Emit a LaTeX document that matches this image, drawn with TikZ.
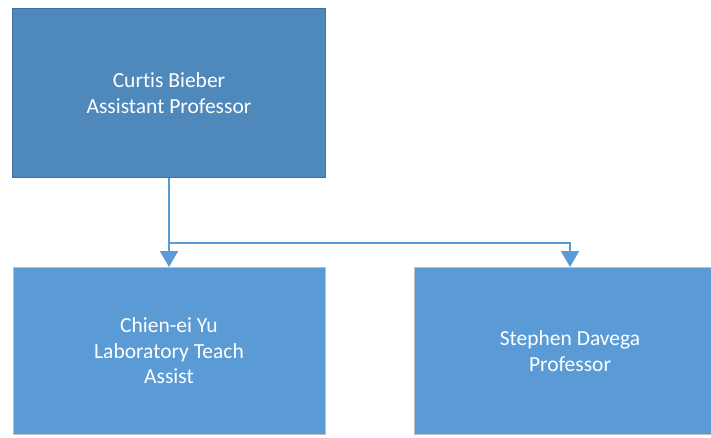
\documentclass[tikz,border=0pt]{standalone}
\usepackage{fontspec}
\setmainfont[Ligatures=NoCommon]{Carlito}
\usepackage[table]{xcolor}
\usepackage{tikz}
\usetikzlibrary{positioning,arrows.meta}
\definecolor{headblue}{RGB}{79,136,187}
\definecolor{headline}{RGB}{65,113,156}
\definecolor{staffblue}{RGB}{91,155,213}
\definecolor{staffline}{RGB}{191,191,191}
\tikzstyle{head} = [minimum width=313pt, minimum height=169pt, draw=headline, line width=1pt, fill=headblue, text=white, align=center, font=\fontsize{21.5}{25.5}\selectfont, inner sep=0pt]
\tikzstyle{staff} = [minimum width=312pt, minimum height=167pt, draw=staffline, line width=1pt, fill=staffblue, text=white, align=center, font=\fontsize{21.5}{25.5}\selectfont, inner sep=0pt]
\tikzstyle{link} = [draw=staffblue, line width=2.2pt, -{Triangle[width=18pt,length=16pt]}]

\begin{document}
\begin{tikzpicture}
    \useasboundingbox (0,0) rectangle (711pt,-438pt);
    \node[head, anchor=north west] (bieber) at (12pt,-8pt) {Curtis Bieber\\Assistant Professor};
    \node[staff, below=89pt of bieber] (yu) {Chien-ei Yu\\Laboratory Teach\\Assist};
    \node[staff, right=88pt of yu] (davega) {Stephen Davega\\Professor};
    \coordinate[below=65pt of bieber.south] (split);
    \draw[link] (bieber.south) -- (yu.north);
    \draw[link] (split) -| (davega.north);
\end{tikzpicture}
\end{document}
